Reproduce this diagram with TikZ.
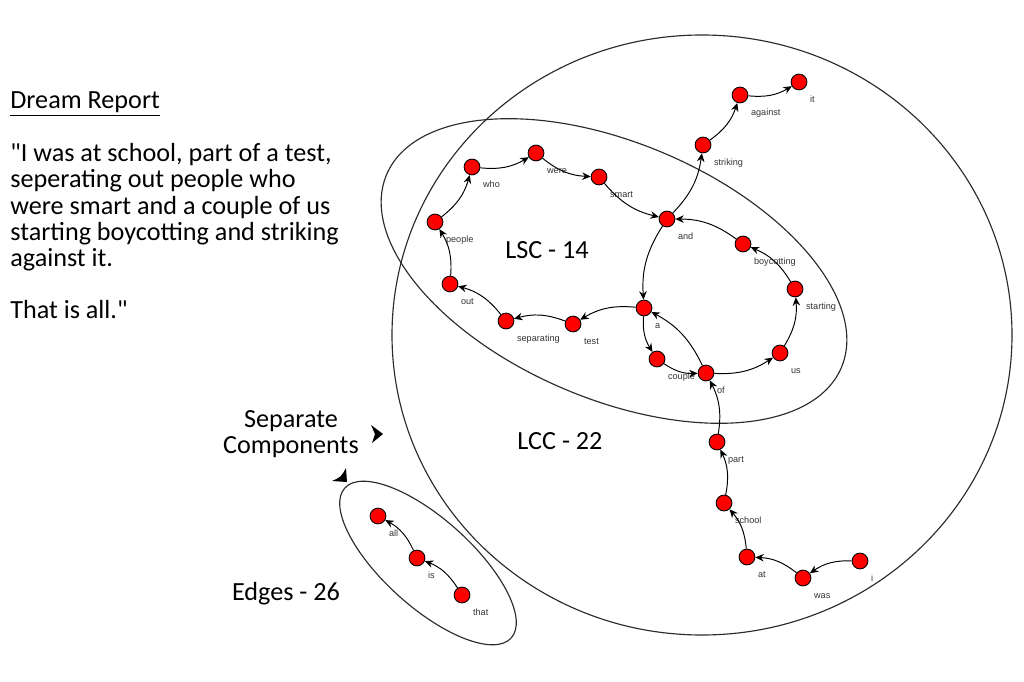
\documentclass[tikz,border=0pt]{standalone}
\usepackage{fontspec}
\setmainfont{Carlito}
\newfontfamily\etiqfont{Liberation Sans}
\usetikzlibrary{arrows.meta,positioning}
\definecolor{TextoGris}{HTML}{333333}
\definecolor{LineaOscura}{HTML}{2B2B2B}
\tikzset{
  palabra/.style = {circle, draw, fill=red, minimum size=9pt, inner sep=0pt,
                    line width=0.5pt, label={[lbl]-90:#1}},
  lbl/.style     = {font=\etiqfont\fontsize{5.2}{6}\selectfont, text=TextoGris,
                    anchor=base west, inner sep=0.5pt, xshift=5.6pt, yshift=-6.9pt},
  flecha/.style  = {-{Stealth[length=4.8pt,width=4.3pt]}, line width=0.55pt, bend right=18},
  ovalo/.style   = {draw=LineaOscura, line width=0.65pt},
  titulo/.style  = {font=\fontsize{14.9}{15.0}\selectfont, inner sep=0pt},
  punta/.style   = {fill=black, draw=none},
}

\begin{document}
\begin{tikzpicture}[x=0.02cm, y=-0.02cm]
  \useasboundingbox (0,0) rectangle (1024,682);
  % componentes
  \draw[ovalo] (702,335) ellipse [x radius=310, y radius=300];
  \draw[ovalo, rotate around={-23:(614,271)}] (614,271) ellipse [x radius=247, y radius=128];
  \draw[ovalo, rotate around={-42:(428,563)}] (428,563) ellipse [x radius=112, y radius=44];
  % palabras
  \node[palabra=i] (i) at (860,561) {};
  \node[palabra=was] (was) at (803,578) {};
  \node[palabra=at] (at) at (747,557) {};
  \node[palabra=school] (school) at (724,503) {};
  \node[palabra=part] (part) at (717,442) {};
  \node[palabra=of] (of) at (706,373) {};
  \node[palabra=couple] (couple) at (657,359) {};
  \node[palabra=a] (a) at (644,308) {};
  \node[palabra=us] (us) at (780,353) {};
  \node[palabra=starting] (starting) at (795,289) {};
  \node[palabra=boycotting] (boycotting) at (743,244) {};
  \node[palabra=and] (and) at (667,219) {};
  \node[palabra=striking] (striking) at (703,145) {};
  \node[palabra=against] (against) at (740,95) {};
  \node[palabra=it] (it) at (799,82) {};
  \node[palabra=smart] (smart) at (599,177) {};
  \node[palabra=were] (were) at (536,153) {};
  \node[palabra=who] (who) at (472,167) {};
  \node[palabra=people] (people) at (435,222) {};
  \node[palabra=out] (out) at (450,284) {};
  \node[palabra=separating] (separating) at (506,321) {};
  \node[palabra=test] (test) at (573,324) {};
  \node[palabra=all] (all) at (378,516) {};
  \node[palabra=is] (is) at (417,558) {};
  \node[palabra=that] (that) at (462,595) {};
  % aristas
  \draw[flecha] (i) to (was); \draw[flecha] (was) to (at); \draw[flecha] (at) to (school);
  \draw[flecha] (school) to (part); \draw[flecha] (part) to (of); \draw[flecha] (of) to (a);
  \draw[flecha] (a) to (couple); \draw[flecha] (couple) to (of); \draw[flecha] (of) to (us);
  \draw[flecha] (us) to (starting); \draw[flecha] (starting) to (boycotting); \draw[flecha] (boycotting) to (and);
  \draw[flecha] (and) to (a); \draw[flecha] (and) to (striking); \draw[flecha] (striking) to (against);
  \draw[flecha] (against) to (it); \draw[flecha] (a) to (test); \draw[flecha] (test) to (separating);
  \draw[flecha] (separating) to (out); \draw[flecha] (out) to (people); \draw[flecha] (people) to (who);
  \draw[flecha] (who) to (were); \draw[flecha] (were) to (smart); \draw[flecha] (smart) to (and);
  \draw[flecha] (that) to (is); \draw[flecha] (is) to (all);
  % textos
  \node[titulo, anchor=base west] (tit) at (10,109) {\underline{Dream Report}};
  \node[titulo, anchor=north west, align=left] (relato) at (10,143)
    {\textquotedbl I was at school, part of a test,\\seperating out people who\\were smart and a couple of us\\starting boycotting and striking\\against it.\\[-0.8pt]\\That is all.\textquotedbl};
  \node[titulo, align=center] (sep) at (291,434) {Separate\\Components};
  \node[titulo, anchor=base] (lsc) at (547,258) {LSC - 14};
  \node[titulo, anchor=base] (lcc) at (560,449) {LCC - 22};
  \node[titulo, anchor=base] (edges) at (286,600) {Edges - 26};
  \fill[punta] (371,425) -- (383,434) -- (372,443) -- (375,434) -- cycle;
  \fill[punta] (346,468) -- (347,482) -- (332,481) .. controls (341,477) .. (346,468) -- cycle;
\end{tikzpicture}
\end{document}
